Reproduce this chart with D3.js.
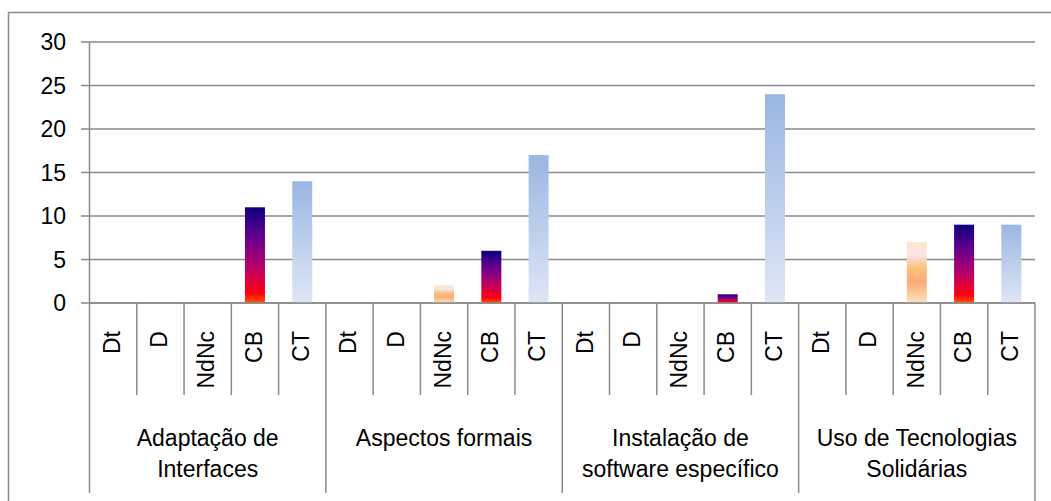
<!DOCTYPE html>
<html>
<head>
<meta charset="utf-8">
<script src="https://cdn.jsdelivr.net/npm/d3@7"></script>
<style>
  html, body { margin: 0; padding: 0; background: #fff; }
  svg { display: block; }
  text { font-family: "Liberation Sans", Arial, sans-serif; fill: #000; }
</style>
</head>
<body>
<svg id="chart" width="1051" height="501"></svg>
<script>
// ---- data ----
const groups = ["Adaptação de Interfaces", "Aspectos formais", "Instalação de software específico", "Uso de Tecnologias Solidárias"];
const groupLines = [["Adaptação de", "Interfaces"], ["Aspectos formais"], ["Instalação de", "software específico"], ["Uso de Tecnologias", "Solidárias"]];
const subcats = ["Dt", "D", "NdNc", "CB", "CT"];
const valuesAdaptacao = [0, 0, 0, 11, 14];
const valuesAspectos = [0, 0, 2, 6, 17];
const valuesInstalacao = [0, 0, 0, 1, 24];
const valuesUso = [0, 0, 7, 9, 9];
const yTicks = [0, 5, 10, 15, 20, 25, 30];

const allValues = [valuesAdaptacao, valuesAspectos, valuesInstalacao, valuesUso];
const rows = [];
groups.forEach((g, gi) => subcats.forEach((s, si) => rows.push({ group: g, gi, sub: s, key: gi + "-" + s, value: allValues[gi][si] })));

const svg = d3.select("#chart");
const plotLeft = 89.5, plotRight = 1035, plotTop = 42, zeroY = 303;
const gridColor = "#8a8a8a";
const fs = 23;

// gradients
const defs = svg.append("defs");
function grad(id, stops) {
  const g = defs.append("linearGradient").attr("id", id).attr("x1", 0).attr("y1", 0).attr("x2", 0).attr("y2", 1);
  stops.forEach(([o, c]) => g.append("stop").attr("offset", o).attr("stop-color", c));
}
grad("gCB", [[0, "#0a0080"], [0.3, "#62008f"], [0.62, "#b8006a"], [0.9, "#ff0010"], [1, "#ff5a00"]]);
grad("gNdNc", [[0, "#fbe8c6"], [0.2, "#fde4ee"], [0.42, "#f9c47a"], [0.65, "#fbaa7c"], [0.88, "#fcd0a0"], [1, "#fde0cc"]]);
grad("gCT", [[0, "#9ab6e3"], [1, "#dfe6f5"]]);
const fillFor = { Dt: "url(#gCT)", D: "url(#gCT)", NdNc: "url(#gNdNc)", CB: "url(#gCB)", CT: "url(#gCT)" };

// outer border
svg.append("rect").attr("x", 8.5).attr("y", 12.5).attr("width", 1100).attr("height", 600)
  .attr("fill", "none").attr("stroke", gridColor).attr("stroke-width", 1.5);

// scales
const x = d3.scaleBand().domain(rows.map(r => r.key)).range([plotLeft, plotRight]).paddingInner(0).paddingOuter(0);
const y = d3.scaleLinear().domain([0, 30]).range([zeroY, plotTop]);

// gridlines + y ticks
svg.append("g").selectAll("line").data(yTicks).join("line")
  .attr("x1", plotLeft - 8.5).attr("x2", plotRight).attr("y1", d => y(d)).attr("y2", d => y(d))
  .attr("stroke", gridColor).attr("stroke-width", 1.5);
svg.append("g").selectAll("text").data(yTicks).join("text")
  .attr("x", 66).attr("y", d => y(d)).attr("dy", "0.36em").attr("text-anchor", "end")
  .attr("font-size", fs).text(d => d);

// y axis line
svg.append("line").attr("x1", plotLeft).attr("x2", plotLeft).attr("y1", plotTop).attr("y2", zeroY)
  .attr("stroke", gridColor).attr("stroke-width", 1.5);

// bars
const bw = 20;
svg.append("g").selectAll("rect").data(rows.filter(r => r.value > 0)).join("rect")
  .attr("x", d => x(d.key) + x.bandwidth() / 2 - bw / 2)
  .attr("width", bw)
  .attr("y", d => y(d.value))
  .attr("height", d => y(0) - y(d.value))
  .attr("fill", d => fillFor[d.sub]);

// x axis baseline
svg.append("line").attr("x1", plotLeft).attr("x2", plotRight).attr("y1", zeroY).attr("y2", zeroY)
  .attr("stroke", gridColor).attr("stroke-width", 1.5);

// sub-category separators
const boundaries = rows.map(r => x(r.key)).concat([plotRight]);
boundaries.forEach((bx, i) => {
  const isGroup = i % subcats.length === 0;
  svg.append("line").attr("x1", bx).attr("x2", bx).attr("y1", zeroY)
    .attr("y2", isGroup ? (i === boundaries.length - 1 ? 501 : 493) : 395)
    .attr("stroke", gridColor).attr("stroke-width", 1.5);
});

// sub-category labels (rotated)
svg.append("g").selectAll("text").data(rows).join("text")
  .attr("transform", d => `translate(${x(d.key) + x.bandwidth() / 2 - 1.5},331) rotate(-90)`)
  .attr("text-anchor", "end").attr("dy", "0.36em").attr("font-size", fs)
  .text(d => d.sub);

// group labels
const gw = x.bandwidth() * subcats.length;
groupLines.forEach((lines, gi) => {
  const cx = plotLeft + gw * gi + gw / 2;
  lines.forEach((ln, li) => {
    svg.append("text").attr("x", cx).attr("y", 446 + li * 31).attr("text-anchor", "middle")
      .attr("font-size", fs).text(ln);
  });
});
</script>
</body>
</html>
